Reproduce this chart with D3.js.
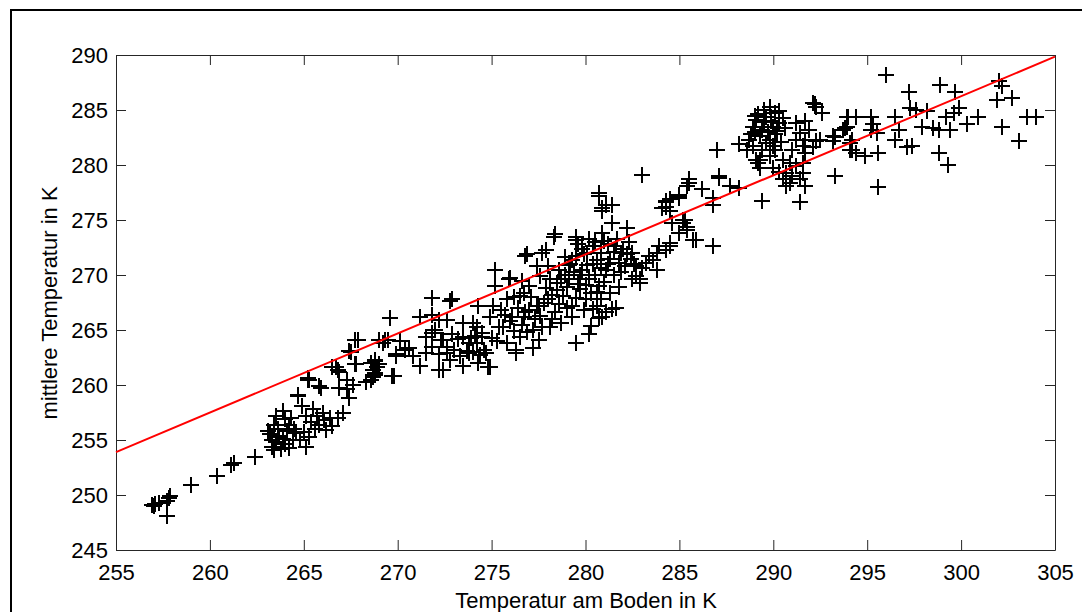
<!DOCTYPE html>
<html>
<head>
<meta charset="utf-8">
<script src="https://cdn.jsdelivr.net/npm/d3@7"></script>
<style>
  body { margin: 0; background: #fff; }
  svg { display: block; font-family: "Liberation Sans", Arial, sans-serif; }
</style>
</head>
<body>
<div id="chart"></div>
<script>
// tick values
const xTicks = [255, 260, 265, 270, 275, 280, 285, 290, 295, 300, 305];
const yTicks = [245, 250, 255, 260, 265, 270, 275, 280, 285, 290];

// regression line end points
const fitX = [255, 305];
const fitY = [253.9, 289.85];

// measurements [ground temperature, mean temperature], grouped by region
const coldPoints = [
  [256.9,249.1],[257.0,249.0],[257.1,249.2],[257.3,249.3],[257.7,249.5],[257.8,249.7],[257.9,249.9],
  [257.7,248.1],[259.0,250.9],[260.4,251.7],[261.1,252.7],[261.3,252.9],[262.4,253.5]
];

const lowPoints = [
  [263.3,255.0],[263.1,255.8],[263.4,256.4],[263.3,254.4],[263.7,255.3],[264.1,255.8],[263.9,257.6],
  [264.2,256.4],[264.4,255.0],[264.7,259.1],[264.9,258.1],[264.8,255.0],[265.1,257.2],[265.4,256.6],
  [265.7,257.2],[265.8,256.4],[266.1,256.8],[266.4,257.0],[266.2,255.9],[266.8,257.0],[267.1,257.5],
  [265.3,255.3],[265.1,254.4],[265.8,259.9],[265.3,260.5],[266.5,261.6],[267.7,264.1],[267.5,263.0],
  [267.4,263.1],[266.7,261.6],[266.9,261.2],[267.7,261.9],[267.3,260.5],[267.6,260.0],[267.3,259.6],
  [267.4,258.8],[266.9,259.7],[265.2,260.5],[265.9,259.7],[264.7,259.0],[265.2,260.6],[266.8,261.4],
  [267.9,264.1],[267.8,261.9],[263.5,254.8],[263.6,256.0],[263.2,255.5],[264.0,254.6],[264.5,256.0],
  [263.8,254.2],[264.3,257.0],[263.5,257.2],[263.4,254.1],[263.9,255.1],[264.6,255.6],[264.2,254.3],
  [265.0,255.7],[265.6,256.0],[266.0,257.5],[266.5,256.3],[265.5,257.8],[264.0,256.9],[263.6,255.4]
];

const midLowPoints = [
  [268.6,262.0],[268.8,262.3],[268.7,261.4],[268.8,261.1],[268.6,260.5],[268.3,260.3],[269.0,261.9],
  [269.7,260.8],[269.2,263.8],[269.0,264.1],[269.5,264.1],[270.1,264.0],[269.9,262.8],[270.4,263.2],
  [270.6,263.4],[269.6,266.1],[271.2,266.2],[271.2,261.7],[272.2,261.4],[271.8,263.5],[271.5,264.4],
  [272.0,265.0],[272.2,265.9],[271.8,266.4],[272.3,264.1],[272.6,262.9],[272.8,262.3],[271.8,267.9],
  [272.8,267.6],[268.8,262.2],[268.8,260.9],[269.8,260.8],[269.3,264.1],[269.9,262.6],[271.8,264.7],
  [272.6,263.5],[272.9,264.6],[268.9,261.6],[268.7,260.7],[270.8,262.6],[271.5,262.9]
];

const midPoints = [
  [272.9,267.8],[272.6,265.9],[272.4,264.1],[272.2,262.8],[272.4,261.4],[273.5,261.7],[273.5,264.4],
  [273.8,262.9],[274.0,265.6],[274.2,263.8],[274.5,264.7],[274.7,262.9],[274.9,261.6],[274.9,266.2],
  [275.1,267.2],[275.2,270.5],[275.4,265.3],[275.8,263.8],[275.9,269.6],[276.1,266.2],[276.3,262.9],
  [276.5,264.4],[276.5,268.1],[276.8,271.7],[277.0,269.0],[276.8,266.6],[277.2,265.0],[277.5,264.1],
  [277.9,272.3],[278.3,273.5],[277.5,267.2],[278.1,269.6],[278.4,266.6],[278.1,265.3],[278.8,268.1],
  [278.6,270.5],[273.3,262.6],[273.8,263.8],[274.3,262.0],[274.8,261.6],[273.5,265.6],[274.2,265.3],
  [274.5,264.4],[275.6,265.3],[276.3,263.2],[276.7,266.2],[277.4,267.2],[275.8,267.8],[276.7,268.4],
  [277.7,265.3],[275.2,269.0],[274.3,267.2],[276.0,269.7],[276.9,271.9],[277.7,272.0],[278.4,273.7],
  [275.5,266.8],[276.0,265.8],[276.4,267.0],[276.9,264.8],[277.3,266.0],[277.8,267.5],[278.2,266.0],
  [278.7,265.6],[279.0,267.0],[276.2,268.0],[275.0,264.3],[274.6,263.2],[273.9,264.3],[273.0,263.2],
  [277.1,268.0],[277.6,269.9],[278.0,270.8],[278.9,271.6],[276.6,269.5],[277.4,270.8],
  [273.7,263.1],[274.1,264.5],[274.4,262.7],[274.0,263.0],[273.2,264.2],[275.3,264.0],[275.7,266.4],
  [276.2,264.9],[276.6,265.5],[277.0,266.8],[277.6,266.3],[278.0,267.8],[278.5,268.6],[277.2,263.4]
];

const midHighPoints = [
  [279.1,269.6],[279.3,267.2],[279.5,273.2],[279.5,271.7],[279.8,270.5],[279.7,268.7],[279.3,266.2],
  [280.0,267.8],[280.4,272.6],[280.6,271.4],[280.2,269.6],[280.7,269.0],[280.6,267.2],[280.9,273.8],
  [281.1,270.5],[281.4,274.7],[281.6,272.6],[281.8,271.1],[280.7,277.2],[281.1,276.4],[280.9,275.8],
  [282.2,274.3],[281.3,268.4],[281.1,266.6],[281.4,266.9],[280.9,266.2],[281.6,267.0],[280.7,266.1],
  [279.5,263.8],[280.2,264.6],[282.5,272.0],[282.7,269.9],[282.9,269.6],[283.2,271.1],[283.6,271.4],
  [283.4,271.7],[283.8,270.5],[284.3,272.3],[284.5,272.9],[283.9,272.6],[285.0,273.8],[285.4,274.4],
  [284.6,274.7],[285.2,275.0],[284.3,276.2],[284.5,276.9],[285.0,277.2],[285.4,278.1],[285.7,273.2],
  [282.5,269.6],[282.7,270.8],[282.9,269.3],[283.0,279.1],[280.7,277.5],[281.4,276.4],[280.9,276.1],
  [279.5,273.5],[285.5,278.4],[284.3,276.7],[284.1,276.1],[285.0,277.0],[286.2,277.8],[286.8,276.4],
  [287.1,279.0],[286.8,272.6],[285.9,273.2],[285.2,274.7],[285.4,274.1],[283.8,272.0],[284.5,272.6],
  [278.9,270.0],[279.2,271.0],[279.6,269.2],[279.9,271.9],[280.1,270.9],[280.3,268.4],[280.5,270.0],
  [280.8,272.0],[281.0,269.4],[281.3,271.5],[281.5,270.0],[281.7,273.3],[281.9,272.0],[282.1,270.8],
  [282.3,273.0],[279.0,268.9],[279.4,270.3],[279.8,272.4],[280.2,273.3],[280.6,268.5],[281.2,272.8],
  [278.5,269.3],[278.2,268.2],[277.9,268.8],[278.6,267.4],[279.9,266.8],[280.3,265.4],[281.8,268.9],
  [282.0,272.4],[282.4,271.5],
  [279.3,271.4],[279.7,270.0],[280.0,269.1],[280.4,271.0],[280.8,270.6],[281.2,271.0],[281.5,272.1],
  [281.0,273.1],[280.5,273.0],[280.1,272.0],[279.6,272.8],[279.1,270.9],[278.7,269.6],[281.9,270.3],
  [282.2,271.9],[280.8,267.8],[279.5,267.9],[280.4,266.9],[282.6,271.0],[283.0,270.6]
];

const warmPoints = [
  [287.0,281.4],[288.2,281.9],[285.5,278.7],[286.2,277.8],[287.1,278.8],[287.7,278.1],[288.2,277.9],
  [286.8,277.0],[284.3,276.6],[285.0,277.3],[284.5,275.8],[285.3,275.0],[289.4,276.7],[291.4,276.6],
  [293.3,279.0],[289.8,285.3],[289.1,284.1],[289.6,284.4],[290.1,284.7],[288.9,283.5],[289.4,283.2],
  [290.0,283.5],[290.3,283.8],[289.3,282.6],[288.7,282.3],[289.8,282.3],[290.1,282.8],[288.9,281.7],
  [289.4,281.4],[290.0,281.7],[288.6,281.4],[289.3,280.5],[289.8,280.8],[290.1,281.4],[289.1,280.5],
  [289.3,279.7],[291.2,283.8],[291.7,284.0],[291.4,282.9],[291.9,283.2],[291.2,282.3],[291.7,282.3],
  [292.3,282.2],[291.6,281.7],[292.1,281.6],[292.5,282.3],[291.0,281.4],[291.7,281.1],[290.5,280.5],
  [290.9,280.2],[291.2,279.9],[291.6,280.2],[290.0,279.7],[290.3,279.4],[290.7,279.3],[291.0,279.0],
  [291.6,279.3],[290.5,278.7],[290.9,278.4],[291.4,278.7],[291.7,278.1],[290.7,278.1],[292.3,285.3],
  [292.6,284.7],[292.1,285.6],[294.4,284.4],[293.9,283.5],[293.2,282.6],[294.1,282.0],[293.2,282.2],
  [294.4,281.1],[289.2,280.2],[292.2,285.5],[293.3,282.5],[293.9,284.4],[293.8,283.4],[294.1,281.4],
  [289.5,283.9],[289.7,283.0],[290.2,283.1],[289.0,283.0],[289.6,282.0],[290.4,282.1],[289.2,284.6],
  [289.9,284.0],[290.5,284.3],[288.8,282.8],[289.0,284.5],[289.5,285.0],[290.3,284.9],[290.6,283.4]
];

const hotPoints = [
  [296.0,288.2],[297.2,286.6],[298.9,287.3],[299.7,286.6],[302.0,287.6],[302.2,287.2],[301.9,285.9],
  [302.7,286.1],[303.5,284.4],[304.0,284.4],[303.1,282.2],[302.2,283.5],[300.9,284.4],[300.3,283.7],
  [299.6,284.7],[299.2,284.4],[299.9,285.2],[299.4,283.2],[298.8,283.2],[298.5,283.4],[297.9,283.5],
  [297.3,285.2],[298.2,284.9],[297.6,285.0],[298.8,281.1],[299.3,280.0],[297.4,281.7],[297.1,281.6],
  [296.5,284.4],[296.5,282.3],[295.3,283.7],[295.2,283.2],[295.5,282.9],[294.9,280.8],[295.6,281.1],
  [295.6,278.0],[294.0,284.4],[293.7,283.2],[294.2,282.3],[294.2,281.4],[296.7,283.2],[295.2,284.4]
];

const allPoints = [].concat(coldPoints, lowPoints, midLowPoints, midPoints, midHighPoints, warmPoints, hotPoints);

function init() {
  const width = 1082, height = 612;

  const svg = d3.select("#chart")
    .append("svg")
    .attr("width", width)
    .attr("height", height);

  svg.append("rect")
    .attr("width", width)
    .attr("height", height)
    .attr("fill", "#fff");

  // outer figure frame (runs off the right and bottom edges)
  svg.append("rect")
    .attr("x", 11)
    .attr("y", 10)
    .attr("width", 1200)
    .attr("height", 800)
    .attr("fill", "none")
    .attr("stroke", "#000")
    .attr("stroke-width", 2);

  const x = d3.scaleLinear().domain([255, 305]).range([116, 1055]);
  const y = d3.scaleLinear().domain([245, 290]).range([550, 55]);

  const axisColor = "#262626";
  const fontSize = 22;

  const styleAxis = g => {
    g.selectAll("path, line").attr("stroke", axisColor);
    g.selectAll("text")
      .attr("fill", "#000")
      .style("font-size", fontSize + "px")
      .style("font-family", "'Liberation Sans', Arial, sans-serif");
  };

  svg.append("g")
    .attr("transform", "translate(0," + 550 + ")")
    .call(d3.axisBottom(x).tickValues(xTicks).tickSizeInner(-10).tickSizeOuter(0).tickPadding(14))
    .call(styleAxis);

  svg.append("g")
    .attr("transform", "translate(0," + 55 + ")")
    .call(d3.axisTop(x).tickValues(xTicks).tickSizeInner(-10).tickSizeOuter(0).tickFormat(""))
    .call(styleAxis);

  svg.append("g")
    .attr("transform", "translate(" + 116 + ",0)")
    .call(d3.axisLeft(y).tickValues(yTicks).tickSizeInner(-10).tickSizeOuter(0).tickPadding(8))
    .call(styleAxis);

  svg.append("g")
    .attr("transform", "translate(" + 1055 + ",0)")
    .call(d3.axisRight(y).tickValues(yTicks).tickSizeInner(-10).tickSizeOuter(0).tickFormat(""))
    .call(styleAxis);

  // plus markers, snapped to whole pixels so the 2px strokes stay crisp
  svg.append("g")
    .selectAll("path.pt")
    .data(allPoints)
    .enter()
    .append("path")
    .attr("class", "pt")
    .attr("transform", d => "translate(" + Math.round(x(d[0])) + "," + Math.round(y(d[1])) + ")")
    .attr("d", "M-8,0H8M0,-8V8")
    .attr("stroke", "#000")
    .attr("stroke-width", 2)
    .attr("fill", "none");

  // regression line
  const line = d3.line()
    .x(d => x(d[0]))
    .y(d => y(d[1]));

  svg.append("path")
    .datum(fitX.map((v, i) => [v, fitY[i]]))
    .attr("d", line)
    .attr("stroke", "#ff0000")
    .attr("stroke-width", 2)
    .attr("fill", "none");

  // axis labels
  svg.append("text")
    .attr("x", 586)
    .attr("y", 608)
    .attr("text-anchor", "middle")
    .style("font-size", fontSize + "px")
    .text("Temperatur am Boden in K");

  svg.append("text")
    .attr("transform", "translate(57,303) rotate(-90)")
    .attr("text-anchor", "middle")
    .style("font-size", fontSize + "px")
    .text("mittlere Temperatur in K");
}

window.onload = init;
</script>
</body>
</html>
